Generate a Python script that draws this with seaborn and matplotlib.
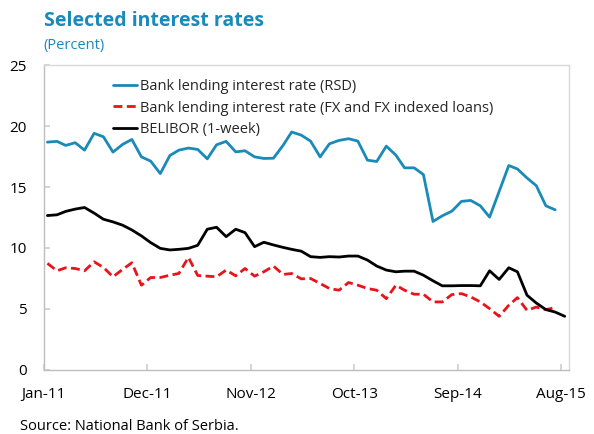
import matplotlib
matplotlib.use("Agg")
import matplotlib.pyplot as plt
import numpy as np
import pandas as pd
import seaborn as sns

# ---- data (monthly, from Jan-2011) ----
rsd_rate = [18.68, 18.74, 18.41, 18.63, 18.02, 19.40, 19.12, 17.86, 18.49, 18.90,
            17.47, 17.12, 16.10, 17.58, 18.02, 18.19, 18.08, 17.31, 18.46, 18.74,
            17.88, 17.97, 17.47, 17.34, 17.36, 18.41, 19.51, 19.25, 18.76, 17.47,
            18.54, 18.82, 18.96, 18.76, 17.20, 17.09, 18.35, 17.61, 16.57, 16.57,
            16.02, 12.17, 12.64, 13.02, 13.82, 13.90, 13.46, 12.53, 14.64, 16.76,
            16.48, 15.74, 15.11, 13.46, 13.13]
fx_rate = [8.74, 8.13, 8.38, 8.32, 8.13, 8.87, 8.41, 7.64, 8.24, 8.79,
           6.95, 7.58, 7.58, 7.77, 7.91, 9.23, 7.75, 7.69, 7.64, 8.19,
           7.72, 8.32, 7.69, 8.05, 8.52, 7.83, 7.91, 7.47, 7.50, 7.09,
           6.68, 6.54, 7.17, 6.95, 6.68, 6.54, 5.85, 6.95, 6.54, 6.21,
           6.21, 5.58, 5.58, 6.18, 6.26, 5.99, 5.58, 5.03, 4.40, 5.30,
           5.93, 4.89, 5.16, 4.95, 5.11]
belibor = [12.66, 12.72, 13.00, 13.19, 13.32, 12.86, 12.36, 12.14, 11.87, 11.48,
           10.99, 10.44, 9.97, 9.84, 9.89, 9.97, 10.22, 11.54, 11.70, 10.93,
           11.54, 11.26, 10.11, 10.47, 10.25, 10.05, 9.89, 9.74, 9.29, 9.23,
           9.29, 9.26, 9.34, 9.34, 9.01, 8.52, 8.19, 8.05, 8.10, 8.10,
           7.77, 7.31, 6.90, 6.90, 6.92, 6.92, 6.90, 8.13, 7.42, 8.38,
           8.05, 6.13, 5.49, 4.95, 4.75, 4.40]
series_labels = ["Bank lending interest rate (RSD)",
                 "Bank lending interest rate (FX and FX indexed loans)",
                 "BELIBOR (1-week)"]
tick_labels = ["Jan-11", "Dec-11", "Nov-12", "Oct-13", "Sep-14", "Aug-15"]
tick_dates = ["2011-01-01", "2011-12-01", "2012-11-01", "2013-10-01", "2014-09-01", "2015-08-01"]
yticks = [0, 5, 10, 15, 20, 25]

months = pd.date_range("2011-01-01", periods=len(belibor), freq="MS") + pd.Timedelta(days=12)

sns.set_theme(style="white")
plt.rcParams['font.family'] = ['Open Sans', 'DejaVu Sans']

BLUE = "#1a8ab8"
RED = "#e8141b"

fig = plt.figure(figsize=(5.94, 4.34), dpi=100)
ax = fig.add_axes([0.0736, 0.1475, 0.958 - 0.0736, 0.8502 - 0.1475])

sns.lineplot(x=months[:len(rsd_rate)], y=rsd_rate, ax=ax, color=BLUE, lw=2.0,
             label=series_labels[0])
sns.lineplot(x=months[:len(fx_rate)], y=fx_rate, ax=ax, color=RED, lw=2.0,
             label=series_labels[1])
ax.lines[-1].set_dashes([3.2, 1.6])
sns.lineplot(x=months, y=belibor, ax=ax, color="black", lw=2.0,
             label=series_labels[2])

ax.set_xlim(pd.Timestamp("2011-01-01"), pd.Timestamp("2015-08-27"))
ax.set_ylim(0, 25)
ax.set_xticks(pd.to_datetime(tick_dates))
ax.set_xticklabels(tick_labels)
ax.set_yticks(yticks)
ax.set_yticklabels([str(v) for v in yticks])
ax.set_xlabel("")
ax.set_ylabel("")

for s in ax.spines.values():
    s.set_visible(True)
    s.set_color("#d9d9d9")
    s.set_linewidth(1.0)
ax.spines["left"].set_color("#bdbdbd")
ax.spines["bottom"].set_color("#bdbdbd")

ax.tick_params(axis="y", direction="in", length=4, color="#d0d0d0", pad=12,
               labelsize=11, labelcolor="black", left=True)
ax.tick_params(axis="x", direction="in", length=4, color="#d0d0d0", pad=12,
               labelsize=11, labelcolor="black", bottom=True)

leg = ax.legend(loc="upper left", bbox_to_anchor=(0.131, 0.955), frameon=False,
                fontsize=10.5, handlelength=1.7, handletextpad=0.15,
                labelspacing=0.47, borderpad=0, borderaxespad=0)
for h in leg.get_lines():
    h.set_linewidth(2.0)

fig.text(43.5 / 594, 1 - 21 / 434, "Selected interest rates", fontsize=14,
         fontweight="bold", color=BLUE, va="center", ha="left")
fig.text(43.5 / 594, 1 - 45 / 434, "(Percent)", fontsize=10.5, color=BLUE,
         va="center", ha="left")
fig.text(20 / 594, 1 - 427 / 434, "Source: National Bank of Serbia.", fontsize=10.5,
         color="black", va="center", ha="left")

fig.savefig("out.png", dpi=100)
